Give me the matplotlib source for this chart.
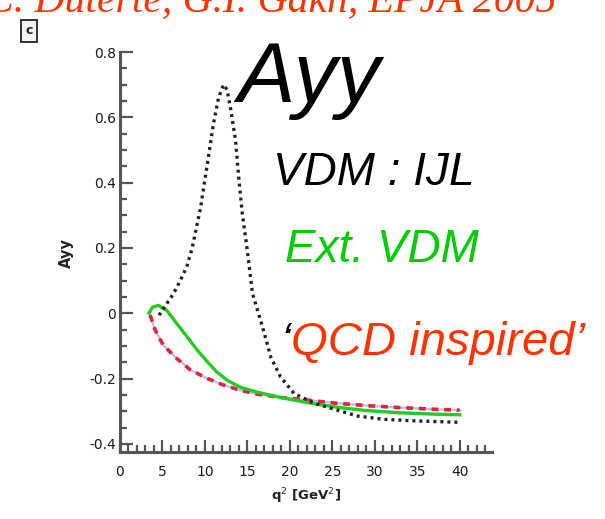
import matplotlib
matplotlib.use('Agg')
import matplotlib.pyplot as plt
from matplotlib.ticker import MultipleLocator

# VDM : IJL (black dotted)
q2_ijl = [4.6, 6.3, 7.1, 7.9, 8.5, 9.5, 10.3, 11.0, 11.6, 12.2, 12.6, 13.0, 13.6, 14.0, 14.4,
          15.0, 15.6, 16.2, 17.0, 17.75, 18.9, 20.5, 22.9, 25.6, 28.0, 31.1, 35.0, 40.0]
ayy_ijl = [-0.006, 0.06, 0.10, 0.145, 0.20, 0.325, 0.46, 0.58, 0.66, 0.70, 0.685, 0.63, 0.53, 0.41,
           0.305, 0.19, 0.06, 0.009, -0.062, -0.134, -0.195, -0.246, -0.276, -0.297, -0.315,
           -0.325, -0.33, -0.334]

# Ext. VDM (green)
q2_ext = [3.4, 3.8, 4.5, 5.5, 6.7, 7.9, 9.1, 10.3, 11.4, 12.6, 14.2, 16.2, 18.9, 22.1, 25.6,
          29.0, 33.0, 37.0, 40.0]
ayy_ext = [0.0, 0.018, 0.024, 0.009, -0.032, -0.072, -0.113, -0.149, -0.18, -0.205, -0.227,
           -0.242, -0.258, -0.274, -0.288, -0.298, -0.305, -0.309, -0.311]

# 'QCD inspired' (red dashed, blue underneath)
q2_qcd = [3.55, 4.14, 5.1, 6.7, 8.3, 10.3, 12.2, 14.2, 16.2, 18.9, 22.1, 25.2, 29.0, 33.0, 37.0, 40.0]
ayy_qcd = [-0.006, -0.052, -0.098, -0.139, -0.174, -0.2, -0.22, -0.236, -0.248, -0.258, -0.266,
           -0.275, -0.283, -0.289, -0.294, -0.297]

xticks = [0, 5, 10, 15, 20, 25, 30, 35, 40]
yticks = [-0.4, -0.2, 0, 0.2, 0.4, 0.6, 0.8]
ytick_labels = ['-0.4', '-0.2', '0', '0.2', '0.4', '0.6', '0.8']

W, H = 605, 519
fig = plt.figure(figsize=(W / 100, H / 100), dpi=100)
ax = fig.add_axes([120 / W, 1 - 452 / H, 372 / W, 400 / H])

ax.plot(q2_qcd, ayy_qcd, color='#b4bcff', lw=1.6, zorder=2)
ax.plot(q2_qcd, ayy_qcd, color='#e8203a', lw=2.6, ls=(0, (1.9, 1.6)), zorder=3)
ax.plot(q2_ext, ayy_ext, color='#22cc22', lw=2.4, zorder=4)
ax.plot(q2_ijl, ayy_ijl, color='#222222', lw=2.4, ls=(0, (0.9, 1.2)), zorder=5)

ax.set_xlim(0, 43.8)
ax.set_ylim(-0.425, 0.8)
ax.set_xticks(xticks)
ax.set_xticklabels([str(t) for t in xticks])
ax.set_yticks(yticks)
ax.set_yticklabels(ytick_labels)
ax.xaxis.set_minor_locator(MultipleLocator(1))
ax.yaxis.set_minor_locator(MultipleLocator(0.05))

for s in ['top', 'right']:
    ax.spines[s].set_visible(False)
for s in ['left', 'bottom']:
    ax.spines[s].set_color('#555555')
    ax.spines[s].set_linewidth(2.2)

ax.tick_params(which='both', direction='in', color='#555555', width=1.6, labelcolor='#1a1a1a',
               labelsize=10)
ax.tick_params(which='major', length=9)
ax.tick_params(which='minor', length=5)
ax.tick_params(axis='x', which='major', pad=9)
ax.tick_params(axis='y', which='major', pad=3)

ax.set_xlabel('q$^2$ [GeV$^2$]', fontsize=9.5, fontweight='bold', color='#222222')
ax.xaxis.set_label_coords(0.5, -0.085)
ax.set_ylabel('Ayy', fontsize=10.5, fontweight='bold', color='#222222')
ax.yaxis.set_label_coords(-0.124, 0.497)

# annotations
fig.text(237 / W, 1 - 102 / H, 'Ayy', fontsize=62, style='italic', family='Liberation Sans',
         color='black', va='baseline')
fig.text(273 / W, 1 - 185 / H, 'VDM : IJL', fontsize=33, style='italic', family='Liberation Sans',
         color='black', va='baseline')
fig.text(285 / W, 1 - 262 / H, 'Ext. VDM', fontsize=33, style='italic', family='Liberation Sans',
         color='#00cc00', va='baseline')
fig.text(280 / W, 1 - 355 / H, '\u2018', fontsize=34, style='italic', family='Liberation Sans',
         color='black', va='baseline')
fig.text(291 / W, 1 - 355 / H, 'QCD inspired\u2019', fontsize=34, style='italic',
         family='Liberation Sans', color='#ff3300', va='baseline')

# reference title, cut off at the top as in the source image
fig.text(-14 / W, 1 - 12 / H, 'C. Duterte, G.I. Gakh, EPJA 2005', fontsize=30, style='italic',
         family='Liberation Serif', color='#ff3300', va='baseline')

# small panel label box
fig.text(29 / W, 1 - 31 / H, 'c', fontsize=9, fontweight='bold', color='#222222',
         ha='center', va='center',
         bbox=dict(boxstyle='square,pad=0.35', fc='#f2f2f2', ec='#222222', lw=1.3))

fig.savefig('out.png', dpi=100)
